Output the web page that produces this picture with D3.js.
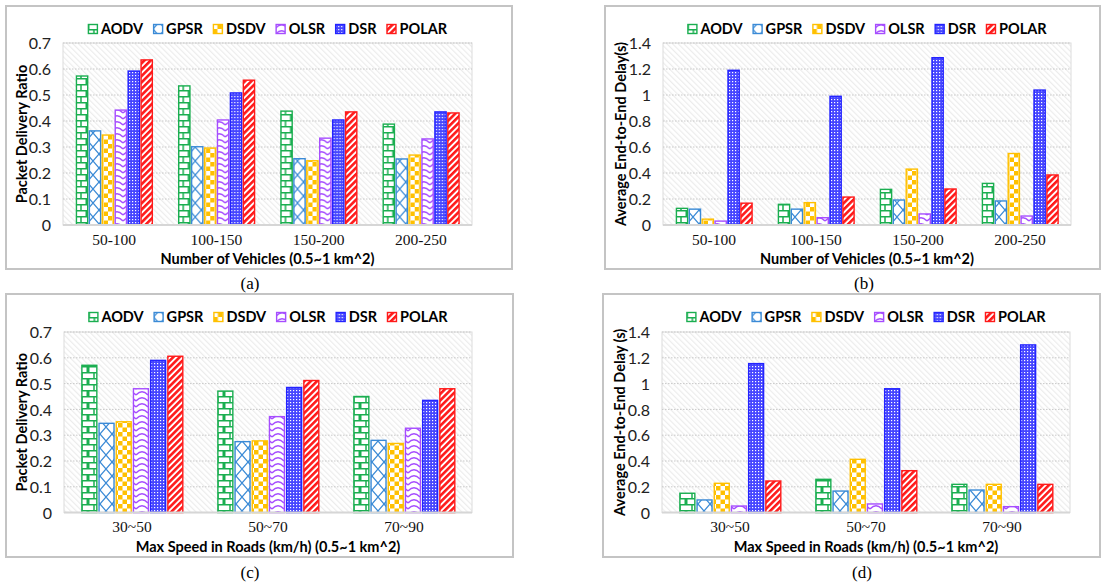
<!DOCTYPE html>
<html>
<head>
<meta charset="utf-8">
<script src="https://cdn.jsdelivr.net/npm/d3@7"></script>
<style>
  html, body { margin: 0; padding: 0; background: #fff; }
  svg { display: block; }
</style>
</head>
<body>
<svg id="chart" width="1101" height="582"></svg>
<script>
// Data
const protocols = ["AODV", "GPSR", "DSDV", "OLSR", "DSR", "POLAR"];
const vehicleGroups = ["50-100", "100-150", "150-200", "200-250"];
const speedGroups = ["30~50", "50~70", "70~90"];

// one row per group, columns follow `protocols`
const pdrByVehicles = [
  [0.573, 0.362, 0.346, 0.442, 0.592, 0.635],
  [0.535, 0.301, 0.296, 0.404, 0.508, 0.557],
  [0.438, 0.255, 0.247, 0.334, 0.404, 0.435],
  [0.388, 0.254, 0.269, 0.331, 0.435, 0.431],
];
const delayByVehicles = [
  [0.128, 0.122, 0.045, 0.03, 1.19, 0.168],
  [0.159, 0.122, 0.172, 0.056, 0.99, 0.215],
  [0.274, 0.192, 0.43, 0.085, 1.287, 0.277],
  [0.32, 0.185, 0.55, 0.069, 1.038, 0.385],
];
const pdrBySpeed = [
  [0.571, 0.346, 0.352, 0.48, 0.59, 0.606],
  [0.471, 0.275, 0.278, 0.372, 0.485, 0.512],
  [0.45, 0.28, 0.268, 0.327, 0.435, 0.48],
];
const delayBySpeed = [
  [0.15, 0.098, 0.227, 0.051, 1.155, 0.245],
  [0.258, 0.167, 0.413, 0.067, 0.96, 0.325],
  [0.219, 0.175, 0.219, 0.046, 1.3, 0.219],
];

const colors = {
  AODV: "#1aae50",
  GPSR: "#3a8ad6",
  DSDV: "#ffc000",
  OLSR: "#a64dff",
  DSR: "#2323ff",
  POLAR: "#ff1a1a",
};

const sans = "Lato, 'Open Sans', sans-serif";
const serif = "'Liberation Serif', 'Times New Roman', serif";

const svg = d3.select("#chart");
const defs = svg.append("defs");

function pattern(id, w, h) {
  return defs.append("pattern")
    .attr("id", id)
    .attr("patternUnits", "userSpaceOnUse")
    .attr("width", w)
    .attr("height", h);
}

// background hatch for plot areas
const bg = pattern("bgHatch", 4, 4).attr("patternTransform", "rotate(-45)");
bg.append("rect").attr("width", 4).attr("height", 4).attr("fill", "#fff");
bg.append("rect").attr("width", 1.2).attr("height", 4).attr("fill", "#ececec");

// AODV bricks
const pA = pattern("pAODV", 12, 12);
pA.append("rect").attr("width", 12).attr("height", 12).attr("fill", "#fff");
pA.append("path")
  .attr("d", "M0,0.75H12M0,6.75H12M6,0.75V6.75M0.75,6.75V12.75M11.25,6.75V12.75")
  .attr("stroke", colors.AODV).attr("stroke-width", 1.5).attr("fill", "none");

// GPSR crosses
const pG = pattern("pGPSR", 12, 14);
pG.append("rect").attr("width", 12).attr("height", 14).attr("fill", "#fff");
pG.append("path")
  .attr("d", "M0,0L12,14M12,0L0,14")
  .attr("stroke", colors.GPSR).attr("stroke-width", 1.2).attr("fill", "none");

// DSDV checkerboard
const pD = pattern("pDSDV", 9, 9);
pD.append("rect").attr("width", 9).attr("height", 9).attr("fill", "#fff");
pD.append("rect").attr("width", 4.5).attr("height", 4.5).attr("fill", colors.DSDV);
pD.append("rect").attr("x", 4.5).attr("y", 4.5).attr("width", 4.5).attr("height", 4.5).attr("fill", colors.DSDV);

// OLSR waves
const pO = pattern("pOLSR", 12, 6);
pO.append("rect").attr("width", 12).attr("height", 6).attr("fill", "#fff");
pO.append("path")
  .attr("d", "M0,5 Q6,-1.5 12,5")
  .attr("stroke", colors.OLSR).attr("stroke-width", 1.4).attr("fill", "none");

// DSR dotted
const pS = pattern("pDSR", 3, 3);
pS.append("rect").attr("width", 3).attr("height", 3).attr("fill", "#4646ff");
pS.append("rect").attr("width", 1.2).attr("height", 1.2).attr("fill", "#ffffff");

// POLAR stripes
const pP = pattern("pPOLAR", 4.5, 4.5).attr("patternTransform", "rotate(45)");
pP.append("rect").attr("width", 4.5).attr("height", 4.5).attr("fill", "#fff");
pP.append("rect").attr("width", 2.6).attr("height", 4.5).attr("fill", colors.POLAR);

const panels = [
  {
    values: pdrByVehicles, groups: vehicleGroups, yMax: 0.7, yStep: 0.1,
    frame: [6, 6, 512, 269], plot: [63, 43, 472, 225],
    legendY: 29, yTitleX: 22,
    yTitle: "Packet Delivery Ratio",
    xTitle: "Number of Vehicles (0.5~1 km^2)",
    caption: "(a)", captionX: 250, captionY: 289,
  },
  {
    values: delayByVehicles, groups: vehicleGroups, yMax: 1.4, yStep: 0.2,
    frame: [605, 6, 1100, 269], plot: [663, 43, 1071, 225],
    legendY: 29, yTitleX: 621,
    yTitle: "Average End-to-End Delay(s)",
    xTitle: "Number of Vehicles (0.5~1 km^2)",
    caption: "(b)", captionX: 864, captionY: 289,
  },
  {
    values: pdrBySpeed, groups: speedGroups, yMax: 0.7, yStep: 0.1,
    frame: [6, 294, 513, 557], plot: [64, 332, 472, 512.6],
    legendY: 317, yTitleX: 22,
    yTitle: "Packet Delivery Ratio",
    xTitle: "Max Speed in Roads (km/h) (0.5~1 km^2)",
    caption: "(c)", captionX: 250, captionY: 578,
  },
  {
    values: delayBySpeed, groups: speedGroups, yMax: 1.4, yStep: 0.2,
    frame: [603, 294, 1100, 557], plot: [662, 332, 1070, 512.6],
    legendY: 317, yTitleX: 620,
    yTitle: "Average End-to-End Delay (s)",
    xTitle: "Max Speed in Roads (km/h) (0.5~1 km^2)",
    caption: "(d)", captionX: 862, captionY: 578,
  },
];

panels.forEach(drawPanel);

function drawPanel(p) {
  const [fx0, fy0, fx1, fy1] = p.frame;
  const [px0, py0, px1, py1] = p.plot;
  const g = svg.append("g");

  // Frame
  g.append("rect")
    .attr("x", fx0).attr("y", fy0)
    .attr("width", fx1 - fx0).attr("height", fy1 - fy0)
    .attr("fill", "#fff")
    .attr("stroke", "#c4c4c4")
    .attr("stroke-width", 2);

  // Scales
  const x0 = d3.scaleBand().domain(p.groups).range([px0, px1]).padding(0);
  const x1 = d3.scaleBand()
    .domain(protocols)
    .range([x0.bandwidth() * 0.115, x0.bandwidth() * 0.89])
    .padding(0.13);
  const y = d3.scaleLinear().domain([0, p.yMax]).range([py1, py0]);

  // Plot area
  g.append("rect")
    .attr("x", px0).attr("y", py0)
    .attr("width", px1 - px0).attr("height", py1 - py0)
    .attr("fill", "url(#bgHatch)")
    .attr("stroke", "#dcdcdc")
    .attr("stroke-width", 1);

  const ticks = d3.range(0, p.yMax + p.yStep / 2, p.yStep);

  // Grid
  g.append("g")
    .selectAll("line")
    .data(ticks.slice(1))
    .join("line")
    .attr("x1", px0).attr("x2", px1)
    .attr("y1", (d) => y(d)).attr("y2", (d) => y(d))
    .attr("stroke", "#c8c8c8")
    .attr("stroke-dasharray", "1.5,1.5")
    .attr("stroke-width", 1);

  // Y axis
  const yAxis = g.append("g")
    .attr("transform", `translate(${px0 - 12},0)`)
    .call(
      d3.axisLeft(y)
        .tickValues(ticks)
        .tickSize(0)
        .tickFormat((d) => String(+d.toFixed(1)))
    );
  yAxis.select(".domain").remove();
  yAxis.selectAll("text")
    .attr("x", 0)
    .attr("dy", "0.35em")
    .style("font-family", sans)
    .style("font-size", "16px")
    .style("fill", "#222");

  // Bars
  const groups = g.append("g")
    .selectAll("g")
    .data(p.values)
    .join("g")
    .attr("transform", (d, i) => `translate(${x0(p.groups[i])},0)`);

  groups.selectAll("rect")
    .data((row) => row.map((v, j) => ({ key: protocols[j], value: v })))
    .join("rect")
    .attr("x", (d) => x1(d.key))
    .attr("y", (d) => y(d.value))
    .attr("width", x1.bandwidth())
    .attr("height", (d) => y(0) - y(d.value))
    .attr("fill", (d) => `url(#p${d.key})`)
    .attr("stroke", (d) => colors[d.key])
    .attr("stroke-width", 1.4);

  // X axis baseline
  g.append("line")
    .attr("x1", px0).attr("x2", px1)
    .attr("y1", py1).attr("y2", py1)
    .attr("stroke", "#d6d6d6")
    .attr("stroke-width", 2);

  // Category labels
  const xAxis = g.append("g")
    .attr("transform", `translate(0,${py1 + 9})`)
    .call(d3.axisBottom(x0).tickSize(0));
  xAxis.select(".domain").remove();
  xAxis.selectAll("text")
    .attr("y", 0)
    .attr("dy", "0.7em")
    .style("font-family", serif)
    .style("font-size", "15.5px")
    .style("fill", "#111");

  // Titles
  g.append("text")
    .attr("x", (px0 + px1) / 2)
    .attr("y", py1 + 39)
    .attr("text-anchor", "middle")
    .style("font-family", sans)
    .style("font-weight", "700")
    .style("font-size", "14.5px")
    .text(p.xTitle);

  g.append("text")
    .attr("transform", `translate(${p.yTitleX},${(py0 + py1) / 2}) rotate(-90)`)
    .attr("dy", "0.35em")
    .attr("text-anchor", "middle")
    .style("font-family", sans)
    .style("font-weight", "700")
    .style("font-size", "14.5px")
    .text(p.yTitle);

  g.append("text")
    .attr("x", p.captionX)
    .attr("y", p.captionY)
    .attr("text-anchor", "middle")
    .style("font-family", serif)
    .style("font-size", "17px")
    .text(p.caption);

  // Legend
  const gap = 10;
  const legend = g.append("g");
  let cx = 0;
  protocols.forEach((name) => {
    const item = legend.append("g").attr("transform", `translate(${cx},0)`);
    item.append("rect")
      .attr("x", 0.5).attr("y", -4.5)
      .attr("width", 9).attr("height", 9)
      .attr("fill", `url(#p${name})`)
      .attr("stroke", colors[name])
      .attr("stroke-width", 1.4);
    const t = item.append("text")
      .attr("x", 13)
      .attr("dy", "0.36em")
      .style("font-family", sans)
      .style("font-weight", "700")
      .style("font-size", "14.5px")
      .text(name);
    cx += 13 + t.node().getComputedTextLength() + gap;
  });
  const legendW = cx - gap;
  legend.attr("transform", `translate(${(px0 + px1) / 2 - legendW / 2},${p.legendY})`);
}
</script>
</body>
</html>
